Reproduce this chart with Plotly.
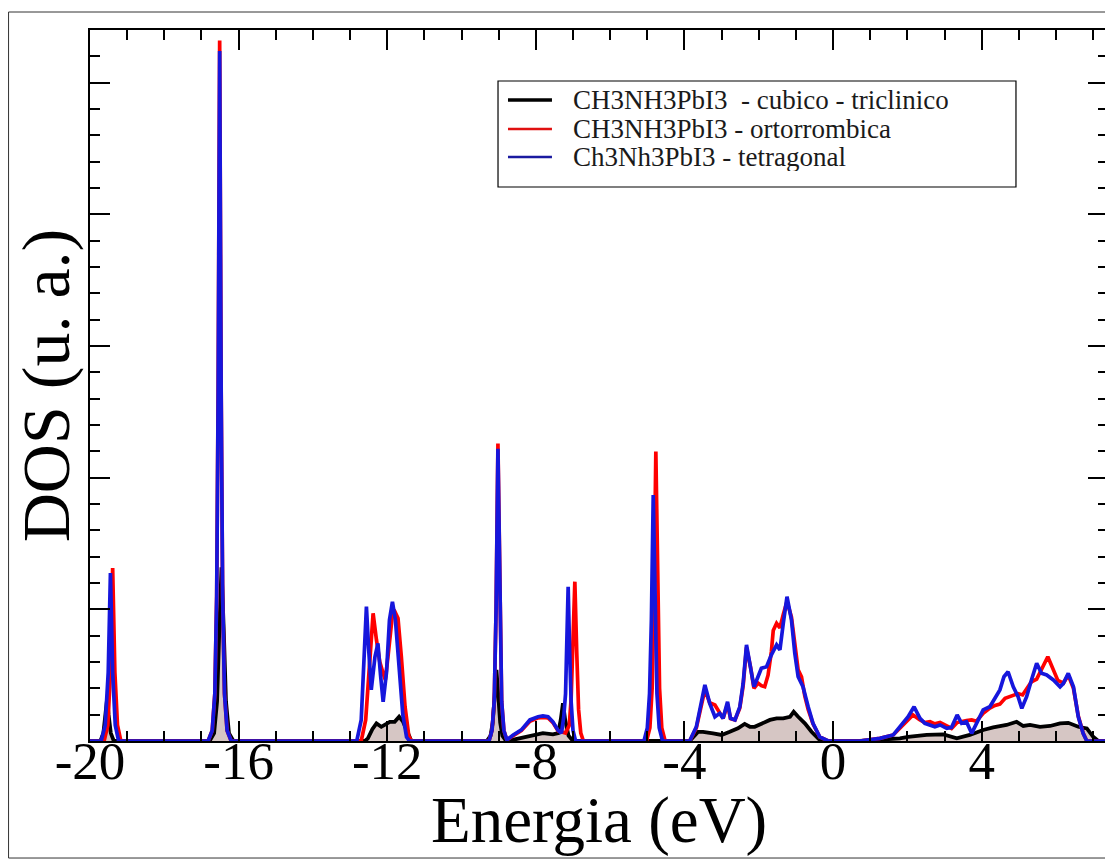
import plotly.graph_objects as go

# ---------------- data ----------------
series_names = ["CH3NH3PbI3  - cubico - triclinico",
                "CH3NH3PbI3 - ortorrombica",
                "Ch3Nh3PbI3 - tetragonal"]
series_colors = ["#000000", "#ff0000", "#1616dc"]

E_black = [-20.0, -19.72, -19.64, -19.58, -19.54, -19.50, -19.44, -19.36,
           -16.78, -16.66, -16.58, -16.52, -16.46, -16.40, -16.34, -16.26, -16.14,
           -12.60, -12.52, -12.40, -12.29, -12.16, -12.05, -11.93, -11.80, -11.68, -11.58, -11.48, -11.35,
           -9.32, -9.22, -9.16, -9.11, -9.06, -9.01, -8.96, -8.90, -8.80, -8.60, -8.40, -8.16, -7.81, -7.54, -7.40, -7.33, -7.27, -7.21, -7.12, -7.00,
           -3.86, -3.63, -3.50, -3.23, -3.00, -2.78, -2.56, -2.38, -2.24, -2.11, -1.93, -1.70, -1.52, -1.34, -1.16, -1.06, -0.94, -0.76, -0.58, -0.36, -0.20,
           0.72, 1.80, 2.02, 2.52, 2.97, 3.33, 3.68, 4.04, 4.31, 4.67, 4.94, 5.12, 5.30, 5.57, 5.84, 6.11, 6.33, 6.60, 6.83, 7.00, 7.14, 7.40]
D_black = [0, 0, 0.3, 1.0, 1.6, 1.0, 0.3, 0,
           0, 0.3, 1.5, 4.2, 6.6, 4.2, 1.5, 0.3, 0,
           0, 0.1, 0.45, 0.67, 0.54, 0.62, 0.73, 0.73, 0.92, 0.75, 0.42, 0,
           0, 0.2, 0.7, 1.7, 2.7, 1.7, 0.7, 0.2, 0, 0.05, 0.12, 0.2, 0.3, 0.25, 0.3, 0.8, 1.43, 0.8, 0.2, 0,
           0, 0.35, 0.35, 0.29, 0.23, 0.35, 0.48, 0.65, 0.54, 0.54, 0.67, 0.80, 0.86, 0.86, 0.92, 1.11, 0.92, 0.67, 0.35, 0.04, 0,
           0, 0.1, 0.16, 0.23, 0.25, 0.1, 0.23, 0.42, 0.52, 0.61, 0.73, 0.57, 0.61, 0.54, 0.57, 0.67, 0.69, 0.54, 0.48, 0.16, 0, 0]

E_red = [-20.0, -19.62, -19.52, -19.45, -19.39, -19.33, -19.26, -19.17,
         -16.82, -16.71, -16.64, -16.59, -16.55, -16.51, -16.47, -16.43, -16.38, -16.31, -16.20,
         -12.70, -12.58, -12.48, -12.38, -12.29, -12.20, -12.11, -12.05, -11.98, -11.86, -11.79, -11.71, -11.62, -11.52, -11.42, -11.35,
         -9.26, -9.18, -9.12, -9.07, -9.02, -8.97, -8.92, -8.86, -8.78, -8.61, -8.39, -8.16, -7.94, -7.81, -7.67, -7.54, -7.40, -7.20, -7.10, -7.05, -7.00, -6.95, -6.90, -6.85, -6.79, -6.72,
         -5.02, -4.93, -4.87, -4.82, -4.77, -4.72, -4.67, -4.61, -4.52,
         -3.86, -3.68, -3.45, -3.32, -3.18, -3.05, -2.96, -2.84, -2.76, -2.64, -2.51, -2.42, -2.33, -2.22, -2.13, -2.02, -1.93, -1.84, -1.75, -1.66, -1.61, -1.52, -1.43, -1.34, -1.24, -1.12, -1.03, -0.94, -0.85, -0.76, -0.67, -0.54, -0.36, -0.13,
         0.72, 1.26, 1.62, 1.84, 2.02, 2.15, 2.34, 2.47, 2.61, 2.74, 2.88, 3.06, 3.19, 3.34, 3.46, 3.59, 3.73, 3.86, 4.04, 4.22, 4.36, 4.49, 4.63, 4.80, 4.98, 5.10, 5.21, 5.34, 5.48, 5.61, 5.78, 5.93, 6.05, 6.20, 6.33, 6.47, 6.60, 6.73, 6.83, 7.40]
D_red = [0, 0, 0.6, 2.6, 6.57, 2.6, 0.6, 0,
         0, 0.4, 1.8, 5.5, 13.5, 26.6, 13.5, 5.5, 1.8, 0.4, 0,
         0, 0.8, 3.0, 4.85, 3.84, 3.0, 2.57, 2.32, 3.2, 4.8, 4.9, 4.66, 3.2, 1.3, 0.2, 0,
         0, 0.4, 1.5, 5.0, 11.3, 5.0, 1.5, 0.4, 0.04, 0.2, 0.4, 0.75, 0.88, 0.9, 0.88, 0.7, 0.38, 0.3, 0.6, 1.6, 3.4, 6.05, 3.4, 1.2, 0.3, 0,
         0, 0.5, 2.0, 5.5, 10.99, 5.5, 2.0, 0.5, 0,
         0, 0.50, 1.95, 1.45, 1.37, 1.05, 0.86, 1.40, 0.85, 0.80, 1.25, 2.10, 3.55, 2.80, 2.00, 2.20, 2.10, 2.06, 2.50, 3.40, 4.20, 4.47, 4.30, 4.80, 5.30, 4.70, 3.60, 2.70, 2.44, 1.70, 1.20, 0.65, 0.16, 0,
         0, 0.10, 0.23, 0.55, 0.85, 0.99, 0.80, 0.70, 0.73, 0.65, 0.70, 0.55, 0.48, 0.70, 0.75, 0.78, 0.80, 0.75, 1.05, 1.25, 1.35, 1.40, 1.62, 1.70, 1.80, 1.75, 2.00, 2.25, 2.35, 2.75, 3.20, 2.70, 2.30, 2.20, 2.50, 2.00, 0.95, 0.30, 0, 0]

E_blue = [-20.0, -19.70, -19.59, -19.51, -19.45, -19.39, -19.32, -19.23,
          -16.82, -16.71, -16.64, -16.59, -16.55, -16.51, -16.47, -16.43, -16.38, -16.31, -16.20,
          -12.82, -12.70, -12.62, -12.56, -12.50, -12.43, -12.33, -12.25, -12.18, -12.11, -12.02, -11.94, -11.86, -11.78, -11.68, -11.58, -11.48, -11.40,
          -9.26, -9.18, -9.12, -9.07, -9.02, -8.97, -8.92, -8.86, -8.78, -8.61, -8.39, -8.16, -7.94, -7.81, -7.67, -7.54, -7.40, -7.31, -7.25, -7.20, -7.17, -7.13, -7.09, -7.05, -7.00, -6.93,
          -5.09, -5.00, -4.94, -4.89, -4.84, -4.79, -4.74, -4.68, -4.59,
          -3.86, -3.68, -3.45, -3.32, -3.18, -3.05, -2.96, -2.84, -2.76, -2.64, -2.51, -2.42, -2.33, -2.22, -2.13, -2.02, -1.93, -1.79, -1.66, -1.52, -1.43, -1.34, -1.24, -1.12, -1.03, -0.94, -0.81, -0.67, -0.54, -0.36, -0.13,
          0.72, 1.26, 1.62, 1.84, 2.02, 2.18, 2.34, 2.47, 2.61, 2.74, 2.88, 3.06, 3.19, 3.34, 3.46, 3.59, 3.73, 3.86, 4.04, 4.22, 4.36, 4.49, 4.60, 4.71, 4.85, 4.98, 5.08, 5.21, 5.34, 5.48, 5.61, 5.75, 5.93, 6.11, 6.20, 6.33, 6.47, 6.60, 6.73, 6.83, 7.40]
D_blue = [0, 0, 0.6, 2.6, 6.38, 2.6, 0.6, 0,
          0, 0.4, 1.8, 5.5, 13.3, 26.2, 13.3, 5.5, 1.8, 0.4, 0,
          0, 0.8, 3.0, 5.10, 3.5, 1.94, 3.2, 3.71, 2.5, 1.49, 2.6, 4.6, 5.29, 4.6, 2.8, 1.0, 0.15, 0,
          0, 0.4, 1.5, 5.0, 11.1, 5.0, 1.5, 0.4, 0.04, 0.23, 0.42, 0.80, 0.92, 0.95, 0.92, 0.73, 0.40, 0.30, 0.9, 1.8, 3.4, 5.86, 3.4, 1.5, 0.4, 0,
          0, 0.5, 1.8, 4.6, 9.34, 4.6, 1.8, 0.5, 0,
          0, 0.54, 2.13, 1.43, 0.92, 1.05, 0.86, 1.49, 0.86, 0.80, 1.30, 2.19, 3.65, 2.82, 2.06, 2.44, 2.76, 2.82, 3.27, 3.65, 3.46, 4.47, 5.48, 4.60, 3.33, 2.44, 2.06, 1.30, 0.67, 0.16, 0,
          0, 0.10, 0.23, 0.61, 0.92, 1.30, 0.86, 0.67, 0.61, 0.54, 0.61, 0.48, 0.52, 0.99, 0.67, 0.73, 0.29, 0.67, 1.18, 1.30, 1.62, 1.94, 2.44, 2.63, 2.06, 1.68, 1.24, 1.68, 2.32, 2.95, 2.57, 2.51, 2.32, 2.06, 2.19, 2.57, 2.06, 0.92, 0.29, 0, 0]

x_tick_vals = [-20, -16, -12, -8, -4, 0, 4]
x_tick_text = ["-20", "-16", "-12", "-8", "-4", "0", "4"]
x_title = "Energia (eV)"
y_title = "DOS (u. a.)"

# ---------------- figure ----------------
SERIF = "Liberation Serif"

fig = go.Figure()
fig.add_trace(go.Scatter(x=E_black, y=D_black, mode="lines", name=series_names[0],
                         line=dict(color=series_colors[0], width=3.8),
                         fill="tozeroy", fillcolor="rgb(214,198,196)"))
fig.add_trace(go.Scatter(x=E_red, y=D_red, mode="lines", name=series_names[1],
                         line=dict(color=series_colors[1], width=3.7)))
fig.add_trace(go.Scatter(x=E_blue, y=D_blue, mode="lines", name=series_names[2],
                         line=dict(color=series_colors[2], width=3.7)))

# legend box drawn inside the plot (paper coordinates of the plotting area)
legend_rows_y = [0.9015, 0.8608, 0.8214]
legend_widths = [3.5, 2.6, 2.6]
legend_line_colors = ["#000000", "#e01010", "#1a1aa0"]
shapes = [
    # outer frame around the whole picture
    dict(type="rect", xref="paper", yref="paper",
         x0=-0.0800, x1=1.0020, y0=-0.1646, y1=1.0253,
         line=dict(color="#333333", width=1), fillcolor="rgba(0,0,0,0)", layer="below"),
    # legend box
    dict(type="rect", xref="paper", yref="paper",
         x0=0.4008, x1=0.9096, y0=0.7792, y1=0.9283,
         line=dict(color="black", width=1.2), fillcolor="white", layer="above"),
]
annotations = []
for name, yy, col, w in zip(series_names, legend_rows_y, legend_line_colors, legend_widths):
    shapes.append(dict(type="line", xref="paper", yref="paper",
                       x0=0.4106, x1=0.4538, y0=yy, y1=yy,
                       line=dict(color=col, width=w), layer="above"))
    annotations.append(dict(xref="paper", yref="paper", x=0.4725, y=yy,
                            xanchor="left", yanchor="middle", showarrow=False,
                            height=28, valign="middle",
                            text=name, font=dict(family=SERIF, size=27, color="#1a1a1a")))

# x-axis title placed just under the tick labels
annotations.append(dict(xref="paper", yref="paper", x=0.5, y=-0.111,
                        xanchor="center", yanchor="middle", showarrow=False,
                        text=x_title, font=dict(family=SERIF, size=65, color="black")))

fig.update_layout(
    width=1105, height=853,
    margin=dict(l=82, r=5, t=22, b=120, autoexpand=False),
    paper_bgcolor="white", plot_bgcolor="white",
    font=dict(family=SERIF, color="black"),
    showlegend=False,
    shapes=shapes,
    annotations=annotations,
)

fig.update_xaxes(
    range=[-20, 7.4], showgrid=False, zeroline=False, automargin=False,
    showline=True, linecolor="black", linewidth=2, mirror="ticks",
    ticks="inside", ticklen=20, tickwidth=1.5, tickcolor="black",
    tickmode="array", tickvals=x_tick_vals, ticktext=x_tick_text,
    ticklabelstandoff=-28,
    tickfont=dict(family=SERIF, size=53, color="black"),
    minor=dict(tickmode="linear", tick0=-20, dtick=1, ticks="inside", ticklen=10,
               tickwidth=1.5, tickcolor="black", showgrid=False),
)
fig.update_yaxes(
    range=[0, 27], showgrid=False, zeroline=False, automargin=False,
    showline=True, linecolor="black", linewidth=2, mirror="ticks",
    ticks="inside", ticklen=20, tickwidth=1.5, tickcolor="black",
    tickmode="linear", tick0=0, dtick=5, showticklabels=False,
    minor=dict(tickmode="linear", tick0=0, dtick=1, ticks="inside", ticklen=10,
               tickwidth=1.5, tickcolor="black", showgrid=False),
    title=dict(text=y_title, font=dict(family=SERIF, size=68, color="black"), standoff=8),
)

fig.write_html("out.html")
